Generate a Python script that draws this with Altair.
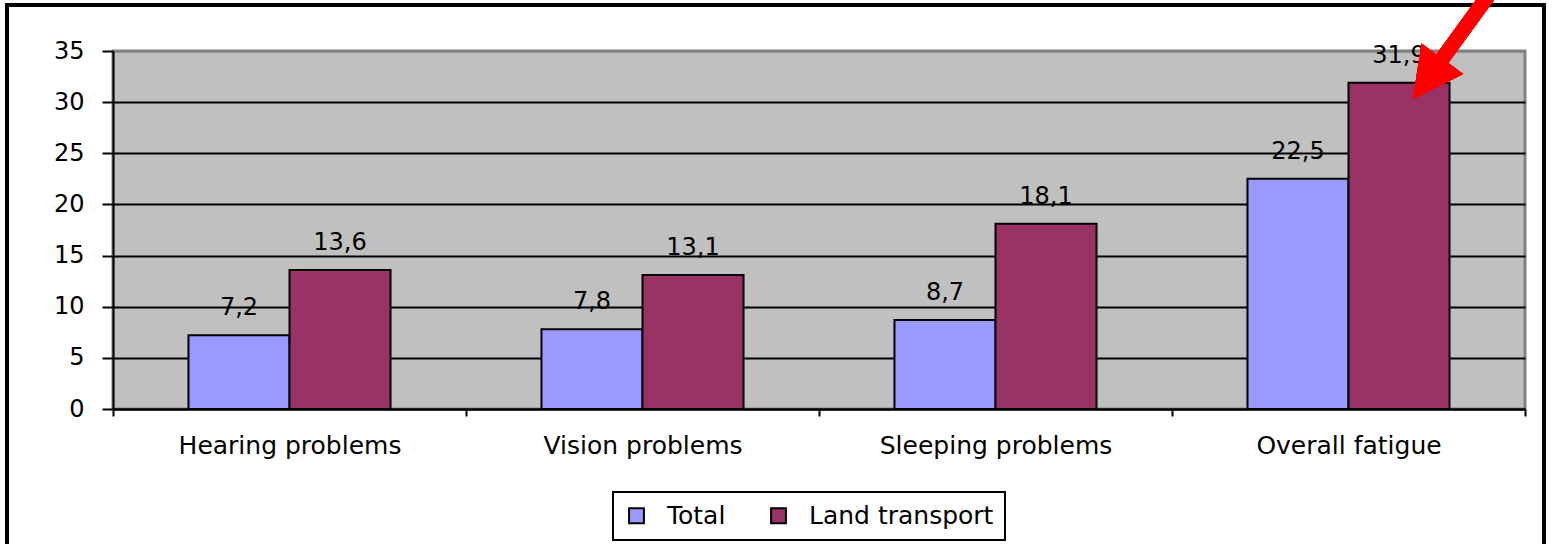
import altair as alt
import pandas as pd

# Survey results (%) by health problem
categories = ["Hearing problems", "Vision problems", "Sleeping problems", "Overall fatigue"]
series_names = ["Total", "Land transport"]
total_values = [7.2, 7.8, 8.7, 22.5]
land_values = [13.6, 13.1, 18.1, 31.9]
y_ticks = [0, 5, 10, 15, 20, 25, 30, 35]

rows = []
for cat, t, l in zip(categories, total_values, land_values):
    rows.append({"category": cat, "series": "Total", "value": t})
    rows.append({"category": cat, "series": "Land transport", "value": l})
df = pd.DataFrame(rows)

FONT = "DejaVu Sans"
W, H = 1412, 358

x_enc = alt.X(
    "category:N",
    sort=categories,
    scale=alt.Scale(paddingInner=0, paddingOuter=0),
    axis=alt.Axis(
        title=None,
        labelAngle=0,
        labelFontSize=25,
        labelColor="black",
        labelPadding=17,
        labelLimit=0,
        tickBand="extent",
        tickSize=7,
        tickWidth=2,
        tickColor="black",
        domainColor="black",
        domainWidth=2,
        grid=False,
    ),
)
xoff_enc = alt.XOffset(
    "series:N",
    sort=series_names,
    scale=alt.Scale(domain=series_names, paddingInner=0, paddingOuter=0.747),
)
y_enc = alt.Y(
    "value:Q",
    scale=alt.Scale(domain=[0, 35], nice=False),
    axis=alt.Axis(
        title=None,
        values=y_ticks,
        labelFontSize=24,
        labelColor="black",
        labelPadding=18,
        tickSize=11,
        tickWidth=2,
        tickColor="black",
        domainColor="black",
        domainWidth=2,
        gridWidth=2,
        gridColor={"condition": {"test": "datum.value == 35", "value": "#808080"}, "value": "black"},
    ),
)

bars = alt.Chart(df).mark_bar(stroke="black", strokeWidth=2).encode(
    x=x_enc,
    xOffset=xoff_enc,
    y=y_enc,
    color=alt.Color(
        "series:N",
        scale=alt.Scale(domain=series_names, range=["#9999FF", "#993366"]),
        legend=alt.Legend(
            title=None,
            orient="none",
            direction="horizontal",
            legendX=500,
            legendY=441,
        ),
    ),
)

labels = alt.Chart(df).transform_calculate(
    label="replace(format(datum.value, '.1f'), '.', ',')"
).mark_text(
    font=FONT, fontSize=24, color="black", baseline="alphabetic", dy=-20
).encode(
    x=alt.X("category:N", sort=categories),
    xOffset=alt.XOffset("series:N", sort=series_names),
    y="value:Q",
    text="label:N",
)

# Outer frame around the whole figure
frame = alt.Chart(df).mark_rect(
    filled=False, stroke="black", strokeWidth=3
).encode(
    x=alt.value(-106), x2=alt.value(1431), y=alt.value(-46), y2=alt.value(620)
)

# Red arrow pointing at the land transport fatigue bar
arrow_path = (
    "M -0.37 0.49 L 0.13 0.24 L -0.018 0.131 L 0.482 -0.557 "
    "L 0.364 -0.643 L -0.137 0.044 L -0.285 -0.065 Z"
)
arrow = alt.Chart(df).mark_point(
    shape=arrow_path, filled=True, color="#FF0000", opacity=1, size=40000, strokeWidth=0
).encode(x=alt.value(1337), y=alt.value(-1))

chart = alt.layer(frame, bars, labels, arrow).properties(
    width=W,
    height=H,
    padding={"left": 113, "top": 51, "right": 27, "bottom": 135},
    autosize=alt.AutoSizeParams(type="none"),
).configure(
    font=FONT,
).configure_view(
    fill="#C0C0C0",
    stroke="#808080",
    strokeWidth=3,
).configure_axis(
    labelFont=FONT,
).configure_legend(
    labelFont=FONT,
    labelFontSize=25,
    labelColor="black",
    labelLimit=0,
    strokeColor="black",
    strokeWidth=2,
    fillColor="white",
    padding=11,
    symbolType="square",
    symbolSize=220,
    symbolStrokeColor="black",
    symbolStrokeWidth=2,
    symbolOpacity=1,
    columnPadding=40,
    labelOffset=18,
)

chart.save("out.html", embed_options={"renderer": "svg", "actions": False})
